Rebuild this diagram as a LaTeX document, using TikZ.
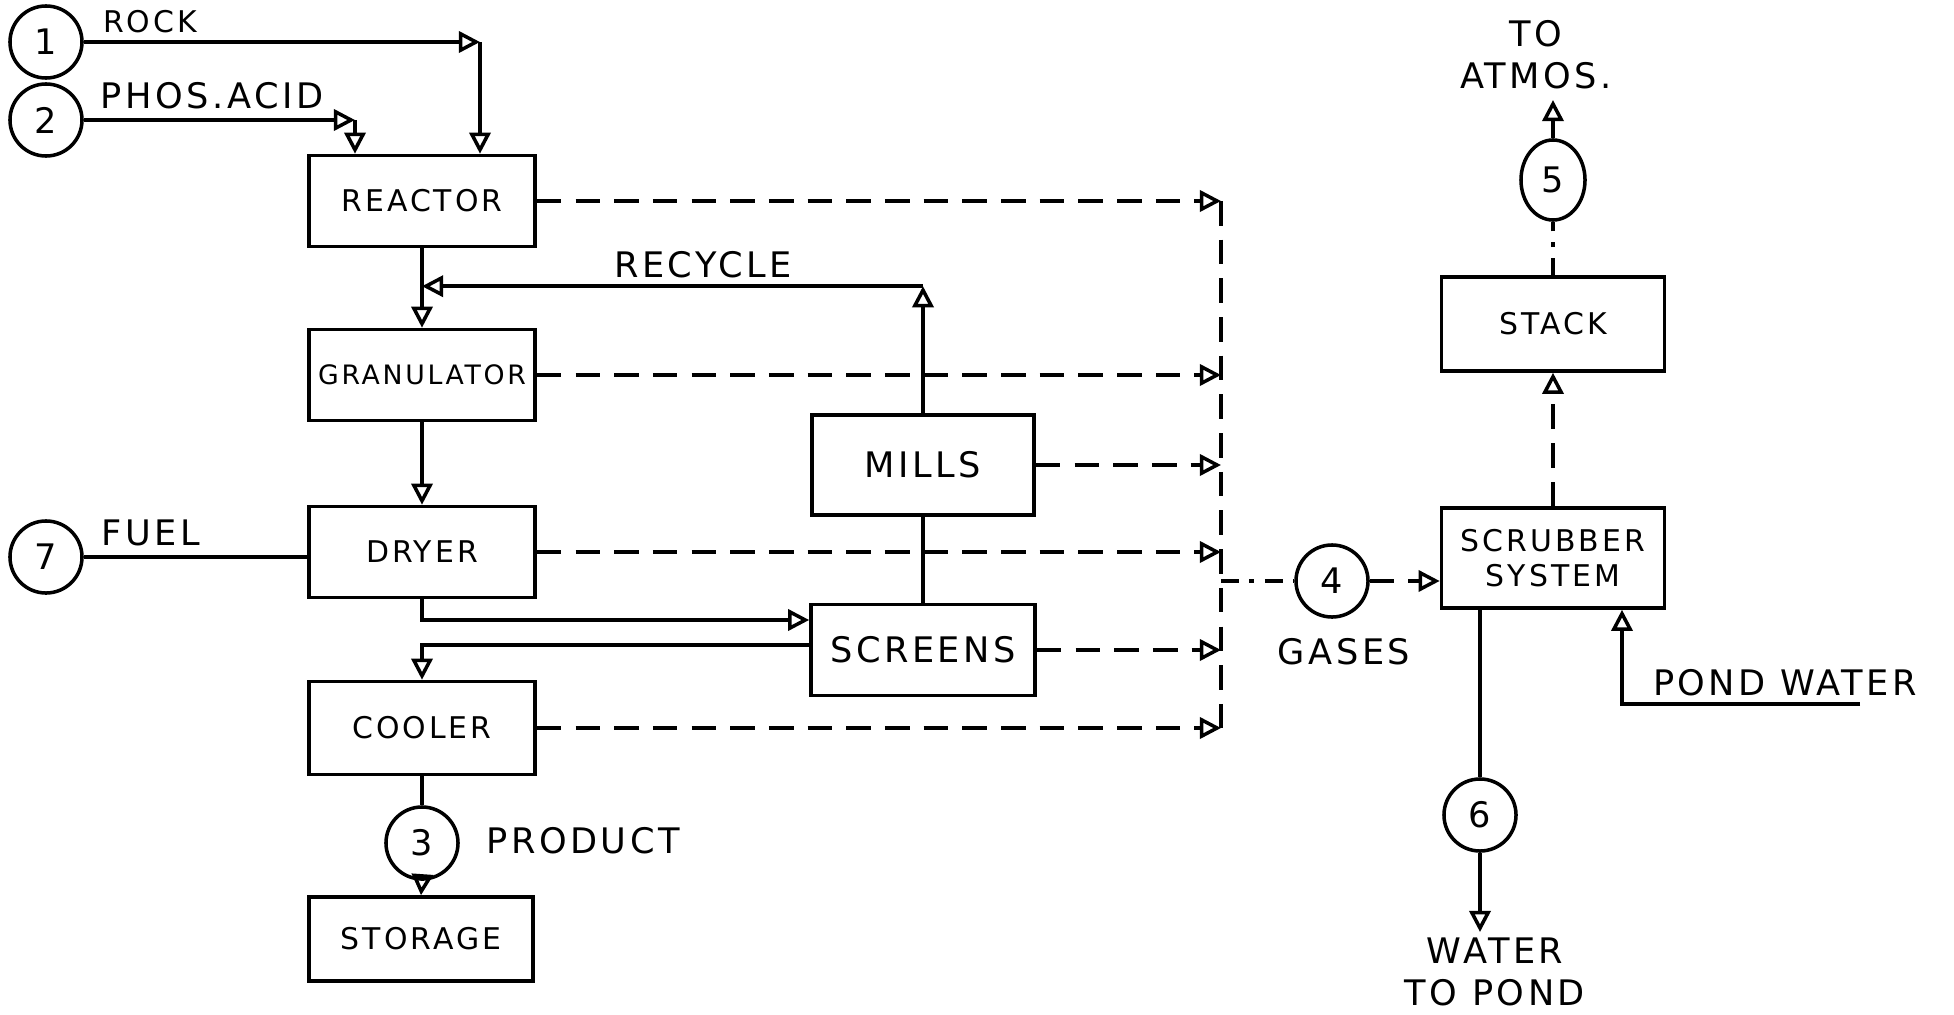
\documentclass[tikz,border=0pt]{standalone}
\usepackage{fontspec}
\setsansfont{DejaVu Sans}[LetterSpace=10]
\usetikzlibrary{arrows.meta,calc,shapes.geometric}

\newcommand\petitlettrage{\sffamily\fontsize{8.5}{10}\selectfont}
\newcommand\grandlettrage{\sffamily\fontsize{10}{12}\selectfont}

\tikzset{
  trait/.style={line width=1pt},
  boite/.style={draw, trait, minimum width=2.26cm, minimum height=0.91cm, inner sep=1pt, font=\petitlettrage},
  flux/.style={draw, trait, ellipse, minimum width=0.72cm, minimum height=0.72cm, inner sep=0pt, font=\grandlettrage},
  lbl/.style={inner sep=1pt, font=\grandlettrage},
  fl/.style={trait, -{Triangle[open,length=6pt,width=6pt]}},
  evac/.style={trait, dash pattern=on 7pt off 4pt, -{Triangle[open,length=6pt,width=6pt]}},
  tiret/.style={trait, dash pattern=on 7pt off 4pt},
  tiretpt/.style={trait, dash pattern=on 5pt off 3pt on 1.5pt off 3pt},
}

\begin{document}
\begin{tikzpicture}[x=0.01cm, y=-0.01cm]
    \useasboundingbox (0,0) rectangle (1954,1015);

    % Entrées
    \node[flux] (s1) at (46,42) {1};
    \node[flux] (s2) at (46,120) {2};
    \node[flux] (s7) at (46,557) {7};
    \node[lbl, font=\petitlettrage] (rock) at (150,22) {ROCK};
    \node[lbl] (acid) at (212,96) {PHOS.ACID};
    \node[lbl] (fuel) at (151,533) {FUEL};

    % Appareils
    \node[boite] (reactor) at (422,201) {REACTOR};
    \node[boite, font=\sffamily\fontsize{7.6}{9}\selectfont] (gran) at (422,375) {GRANULATOR};
    \node[boite] (dryer) at (422,552) {DRYER};
    \node[boite, minimum height=0.93cm] (cooler) at (422,728) {COOLER};
    \node[boite, minimum height=0.84cm, minimum width=2.24cm] (storage) at (421,939) {STORAGE};
    \node[boite, minimum height=1cm, minimum width=2.22cm, font=\grandlettrage] (mills) at (923,465) {MILLS};
    \node[boite, minimum width=2.24cm, font=\grandlettrage] (screens) at (923,650) {SCREENS};
    \node[boite, minimum height=0.94cm, minimum width=2.23cm] (stack) at (1553,324) {STACK};
    \node[boite, minimum height=1cm, minimum width=2.23cm, align=center] (scrub) at (1553,558) {SCRUBBER\\SYSTEM};

    % Courants
    \node[flux] (s3) at (422,843) {3};
    \node[flux] (s4) at (1332,581) {4};
    \node[flux, minimum width=0.64cm, minimum height=0.8cm] (s5) at (1553,180) {5};
    \node[flux] (s6) at (1480,815) {6};

    % Matières premières
    \coordinate (rk) at (480,42);
    \coordinate (ac) at (355,120);
    \draw[fl] (s1) -- (rk);
    \draw[fl] (rk) -- (rk |- reactor.north);
    \draw[fl] (s2) -- (ac);
    \draw[fl] (ac) -- (ac |- reactor.north);

    % Ligne principale
    \draw[fl] (reactor.south) -- (gran.north);
    \draw[fl] (gran.south) -- (dryer.north);
    \draw[trait] (s7) -- (s7 -| dryer.west);
    \draw[fl] (dryer.south) |- ($(screens.west)+(0,-30)$);
    \draw[fl] ($(screens.west)+(0,-5)$) -| (cooler.north);
    \draw[trait] (cooler.south) -- (s3.north);
    \draw[fl] (s3.south) -- (storage.north);
    \node[lbl] (product) at (583,841) {PRODUCT};

    % Recyclage
    \draw[trait] (mills.south) -- (screens.north);
    \path (mills.north) ++(0,-127) coordinate (rc);
    \draw[fl] (mills.north) -- (rc);
    \draw[fl] (rc) -- (rc -| reactor.south);
    \node[lbl] (recycle) at (703,265) {RECYCLE};

    % Collecteur des gaz
    \coordinate (hd) at (1221,201);
    \foreach \b in {reactor,gran,mills,dryer,screens,cooler}
        \draw[evac] (\b.east) -- (\b.east -| hd);
    \draw[tiret] (hd) -- (hd |- cooler.east);
    \draw[tiretpt] (hd |- s4) -- (s4);
    \draw[evac] (s4) -- (s4 -| scrub.west);
    \node[lbl] (gases) at (1344,652) {GASES};

    % Lavage et cheminée
    \draw[evac] (scrub.north) -- (stack.south);
    \draw[tiretpt] (stack.north) -- (s5.south);
    \coordinate (atm) at (1553,100);
    \draw[fl] (s5.north) -- (atm);
    \node[lbl, align=center] (atmos) at (1536,55) {TO\\ATMOS.};

    \draw[trait] (scrub.south -| s6) -- (s6.north);
    \coordinate (wt) at (1480,932);
    \draw[fl] (s6.south) -- (wt);
    \node[lbl, align=center] (water) at (1495,972) {WATER\\TO POND};

    \coordinate (pw1) at (1860,704);
    \coordinate (pw2) at (1622,704);
    \draw[fl] (pw1) -- (pw2) -- (pw2 |- scrub.south);
    \node[lbl] (pond) at (1785,683) {POND WATER};
\end{tikzpicture}
\end{document}
